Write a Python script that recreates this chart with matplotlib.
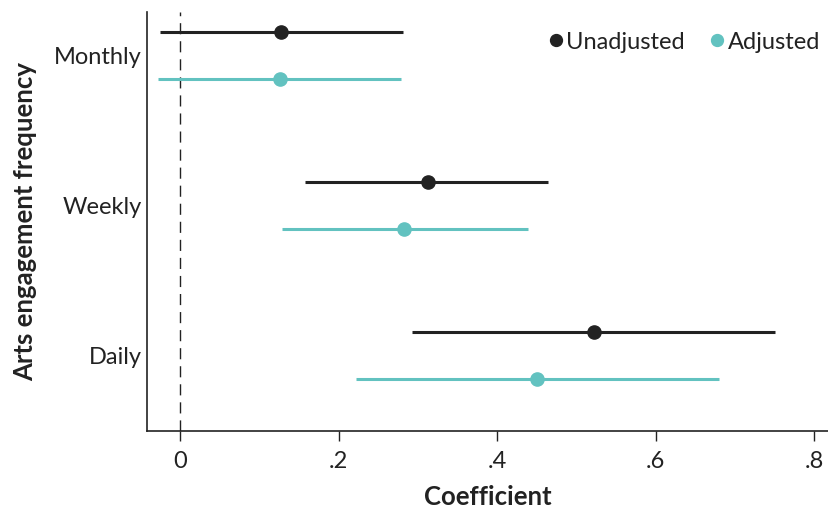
import matplotlib
matplotlib.use("Agg")
import matplotlib.pyplot as plt
import numpy as np

plt.rcParams["font.family"] = ["Lato", "DejaVu Sans"]

categories = ["Monthly", "Weekly", "Daily"]

unadj_coef = [0.127, 0.313, 0.522]
unadj_low = [-0.025, 0.158, 0.293]
unadj_high = [0.281, 0.464, 0.751]

adj_coef = [0.126, 0.283, 0.450]
adj_low = [-0.028, 0.129, 0.222]
adj_high = [0.279, 0.439, 0.680]

xticks = [0, 0.2, 0.4, 0.6, 0.8]
xtick_labels = ["0", ".2", ".4", ".6", ".8"]

DARK = "#222222"
TEAL = "#62c2c0"

fig = plt.figure(figsize=(8.29, 5.12), dpi=100)
ax = fig.add_axes([0.1773, 0.158, 0.823, 0.819])

pos = np.arange(len(categories))
offset = 0.157

ax.axvline(0, color=DARK, lw=1.0, ls=(0, (8, 5)), zorder=1)

ax.hlines(pos - offset, unadj_low, unadj_high, color=DARK, lw=2.2, zorder=2)
ax.plot(unadj_coef, pos - offset, "o", color=DARK, ms=9.5, zorder=3, label="Unadjusted")
ax.hlines(pos + offset, adj_low, adj_high, color=TEAL, lw=2.2, zorder=2)
ax.plot(adj_coef, pos + offset, "o", color=TEAL, ms=9.5, zorder=3, label="Adjusted")

ax.set_xlim(-0.0416, 0.819)
ax.set_ylim(2.505, -0.295)
ax.set_yticks(pos)
ax.set_yticklabels(categories)
ax.set_xticks(xticks)
ax.set_xticklabels(xtick_labels)
ax.tick_params(axis="y", length=0, labelsize=17, pad=4, colors=DARK)
ax.tick_params(axis="x", length=7, width=1, labelsize=17, pad=7, colors=DARK)

for s in ["top", "right"]:
    ax.spines[s].set_visible(False)
for s in ["left", "bottom"]:
    ax.spines[s].set_linewidth(1.2)
    ax.spines[s].set_color(DARK)

ax.set_xlabel("Coefficient", fontsize=18.5, fontweight="bold", color=DARK, labelpad=10)
ax.set_ylabel("Arts engagement frequency", fontsize=18.5, fontweight="bold", color=DARK, labelpad=12)

ax.legend(loc="upper right", frameon=False, fontsize=17, ncol=2, handletextpad=-0.55,
          columnspacing=0.35, markerscale=0.9, borderaxespad=0.0,
          bbox_to_anchor=(1.0, 0.975), labelcolor=DARK)

fig.savefig("out.png", dpi=100)
